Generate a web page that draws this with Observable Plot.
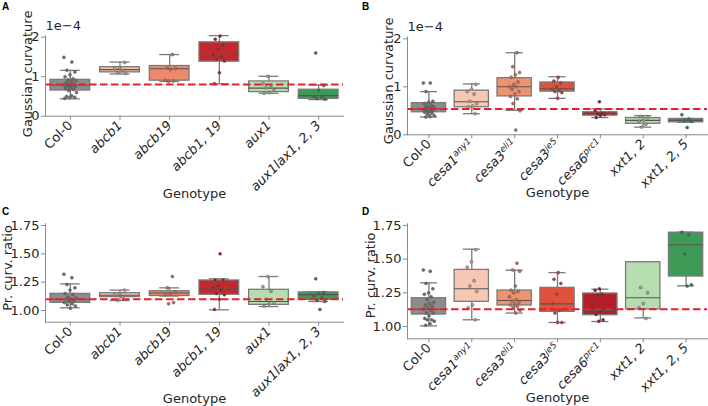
<!DOCTYPE html>
<html><head><meta charset="utf-8">
<script src="https://cdn.jsdelivr.net/npm/d3@7"></script>
<script src="https://cdn.jsdelivr.net/npm/@observablehq/plot@0.6"></script>
<style>
body{margin:0;background:#fff;}
#wrap{position:relative;width:708px;height:406px;overflow:hidden;font-family:"DejaVu Sans",sans-serif;}
.panel{position:absolute;}
.letter{position:absolute;font:bold 10px "Liberation Sans",Arial,sans-serif;color:#000;}
</style></head><body><div id="wrap"></div>
<script>
// ---------- categories ----------
const genoA = ["Col-0","abcb1","abcb19","abcb1, 19","aux1","aux1lax1, 2, 3"];
const supA  = ["","","","","",""];
const colorsA = ["#8c8c8c","#f5c3ad","#ec8a6b","#c3282e","#b6ddb0","#3c9a56"];

const genoB = ["Col-0","cesa1","cesa3","cesa3","cesa6","xxt1, 2","xxt1, 2, 5"];
const supB  = ["","any1","eli1","je5","prc1","",""];
const colorsB = ["#8c8c8c","#f6c7b3","#ee936f","#e0523e","#b41f27","#b6ddb0","#3d9a57"];

// ---------- Panel A: Gaussian curvature (x1e-4) ----------
const gcA_q1  = [0.65,1.11,0.90,1.38,0.61,0.44];
const gcA_med = [0.79,1.18,1.20,1.54,0.71,0.52];
const gcA_q3  = [0.92,1.24,1.27,1.87,0.88,0.67];
const gcA_lo  = [0.44,1.07,0.88,0.82,0.58,0.42];
const gcA_hi  = [1.16,1.37,1.56,2.04,1.01,0.79];
const gcA_pts = [
  [1.49,1.37,1.16,1.12,1.05,1.0,0.95,0.92,0.9,0.88,0.85,0.82,0.8,0.79,0.78,0.76,0.75,0.72,0.7,0.68,0.65,0.6,0.52,0.5,0.48,0.47,0.45],
  [1.36,1.22,1.2,1.15,1.1,1.08],
  [1.56,1.22,1.21,1.18,0.91,0.89,0.88],
  [2.03,1.95,1.8,1.7,1.55,1.5,1.45,1.4,1.1,0.82],
  [1.01,0.82,0.78,0.72,0.65,0.6,0.58],
  [1.6,0.78,0.65,0.5,0.48,0.45,0.43]
];
const gcA_ref = 0.80;

// ---------- Panel B: Gaussian curvature (x1e-4) ----------
const gcB_q1  = [0.47,0.575,0.80,0.90,0.40,0.23,0.26];
const gcB_med = [0.54,0.69,1.00,0.96,0.44,0.30,0.30];
const gcB_q3  = [0.66,0.92,1.18,1.09,0.47,0.35,0.33];
const gcB_lo  = [0.37,0.44,0.51,0.76,0.36,0.16,0.26];
const gcB_hi  = [0.90,1.06,1.71,1.21,0.54,0.40,0.34];
const gcB_pts = [
  [1.08,1.08,0.9,0.7,0.68,0.65,0.62,0.6,0.58,0.57,0.56,0.55,0.54,0.53,0.52,0.5,0.5,0.48,0.47,0.45,0.43,0.4,0.38,0.37],
  [1.05,0.95,0.9,0.85,0.7,0.65,0.6,0.58,0.44],
  [1.71,1.42,1.3,1.25,1.2,1.1,1.05,1.0,1.0,0.95,0.9,0.85,0.8,0.75,0.65,0.5,0.1],
  [1.2,1.12,1.08,1.0,0.95,0.92,0.9,0.88,0.76],
  [0.69,0.5,0.45,0.44,0.42,0.4,0.36],
  [0.38,0.36,0.3,0.28,0.22,0.16],
  [0.42,0.33,0.3,0.28,0.15]
];
const gcB_ref = 0.54;

// ---------- Panel C: principal curvature ratio ----------
const prC_q1  = [1.068,1.118,1.128,1.139,1.05,1.094];
const prC_med = [1.10,1.135,1.155,1.19,1.08,1.14];
const prC_q3  = [1.147,1.153,1.17,1.265,1.183,1.16];
const prC_lo  = [1.024,1.088,1.128,1.006,1.035,1.08];
const prC_hi  = [1.235,1.18,1.20,1.28,1.30,1.165];
const prC_pts = [
  [1.32,1.29,1.23,1.2,1.18,1.15,1.14,1.12,1.11,1.1,1.1,1.09,1.08,1.07,1.06,1.05,1.04,1.02],
  [1.18,1.15,1.14,1.12,1.09],
  [1.30,1.2,1.16,1.15,1.14,1.07,1.06],
  [1.5,1.27,1.27,1.22,1.2,1.18,1.15,1.14,1.1,1.01],
  [1.30,1.21,1.17,1.1,1.07,1.06,1.04],
  [1.28,1.16,1.15,1.13,1.11,1.09,1.08,1.01]
];
const prC_ref = 1.10;

// ---------- Panel D: principal curvature ratio ----------
const prD_q1  = [1.089,1.183,1.156,1.109,1.084,1.128,1.371];
const prD_med = [1.128,1.28,1.193,1.168,1.119,1.213,1.607];
const prD_q3  = [1.21,1.42,1.267,1.287,1.245,1.477,1.696];
const prD_lo  = [1.005,1.05,1.10,1.03,1.037,1.064,1.302];
const prD_hi  = [1.324,1.574,1.418,1.40,1.277,1.477,1.70];
const prD_pts = [
  [1.42,1.41,1.32,1.28,1.25,1.24,1.22,1.2,1.18,1.17,1.16,1.15,1.14,1.13,1.12,1.1,1.1,1.08,1.06,1.05,1.05,1.04,1.02,1.01],
  [1.57,1.48,1.44,1.34,1.3,1.26,1.16,1.14,1.05],
  [1.47,1.42,1.41,1.3,1.27,1.26,1.25,1.22,1.2,1.19,1.18,1.17,1.16,1.15,1.14,1.12,1.1],
  [1.40,1.35,1.32,1.24,1.17,1.12,1.1,1.03,1.03],
  [1.28,1.27,1.24,1.23,1.13,1.11,1.09,1.05,1.04],
  [1.29,1.25,1.17,1.14,1.06],
  [1.70,1.68,1.54,1.31,1.30]
];
const prD_ref = 1.128;

// ---------- tick labels / titles ----------
const gcTicks = [0,1,2];
const prTicks = [1.00,1.25,1.50,1.75];
const xTitle = "Genotype";
const gcTitle = "Gaussian curvature";
const prTitle = "Pr. curv. ratio";
const gcOffset = "1e\u22124";

// ---------- drawing ----------
const AXIS = "#8a8a8a", EDGE = "#7a7a7a", TXT = "#262626";
const jit = k => (((k * 0.61803) % 1) - 0.5) * 0.26;

function panel(cfg) {
  const n = cfg.names.length;
  const stats = d3.range(n).map(i => ({i, q1: cfg.q1[i], med: cfg.med[i], q3: cfg.q3[i], lo: cfg.lo[i], hi: cfg.hi[i], c: cfg.colors[i]}));
  const pts = cfg.pts.flatMap((arr, i) => arr.map((v, k) => ({i, v, x: i + jit(k + i * 3), c: d3.color(cfg.colors[i]).darker(0.7).formatHex()})));
  const marks = [
    Plot.ruleX(stats, {x: "i", y1: "lo", y2: "q1", stroke: EDGE, strokeWidth: 1.3}),
    Plot.ruleX(stats, {x: "i", y1: "q3", y2: "hi", stroke: EDGE, strokeWidth: 1.3}),
    Plot.ruleY(stats, {y: "lo", x1: d => d.i - 0.2, x2: d => d.i + 0.2, stroke: EDGE, strokeWidth: 1.3}),
    Plot.ruleY(stats, {y: "hi", x1: d => d.i - 0.2, x2: d => d.i + 0.2, stroke: EDGE, strokeWidth: 1.3}),
    Plot.rect(stats, {x1: d => d.i - 0.4, x2: d => d.i + 0.4, y1: "q1", y2: "q3", fill: "c", stroke: EDGE, strokeWidth: 1.3}),
    Plot.ruleY(stats, {y: "med", x1: d => d.i - 0.4, x2: d => d.i + 0.4, stroke: "#555", strokeWidth: 1.1}),
    Plot.dot(pts, {x: "x", y: "v", fill: "c", stroke: "#555", strokeWidth: 0.5, r: 1.5}),
    Plot.ruleY([cfg.ref], {stroke: "#e8202a", strokeWidth: 2, strokeDasharray: "7.5,3.5"}),
    Plot.frame({anchor: "left", stroke: AXIS}),
    Plot.frame({anchor: "bottom", stroke: AXIS}),
    Plot.axisX({ticks: d3.range(n), tickFormat: i => cfg.names[i] + cfg.sups[i], tickRotate: -45, tickSize: 4, tickPadding: 3,
      stroke: AXIS, fill: TXT, label: null}),
    Plot.axisY({ticks: cfg.ticks, tickFormat: cfg.fmt, tickSize: 4, tickPadding: 2, stroke: AXIS, fill: TXT, label: null}),
    Plot.text([xTitle], {frameAnchor: "bottom", text: d => d, lineAnchor: "middle", textAnchor: "middle", dy: cfg.xdy, fill: TXT}),
    Plot.text([cfg.ylabel], {frameAnchor: "left", text: d => d, rotate: -90, lineAnchor: "middle", textAnchor: "middle", dx: cfg.ydx, dy: cfg.ydy, fill: TXT})
  ];
  if (cfg.offsetText) marks.push(Plot.text([cfg.offsetText], {frameAnchor: "top-left", text: d => d, textAnchor: "start", lineAnchor: "middle", dy: -10, fill: TXT}));
  const svg = Plot.plot({
    width: 354, height: cfg.height,
    marginLeft: cfg.ml, marginRight: cfg.mr, marginTop: cfg.mt, marginBottom: cfg.mb,
    style: {fontFamily: "DejaVu Sans", fontSize: "13px", color: TXT, background: "transparent", overflow: "visible"},
    x: {domain: [-0.5, n - 0.5]},
    y: {domain: cfg.domain},
    marks
  });
  // tick label styling: italic genotype names and superscript alleles
  svg.querySelectorAll('g[aria-label="x-axis tick label"] text').forEach((t, i) => {
    t.textContent = cfg.names[i];
    if (i > 0) t.style.fontStyle = "italic";
    if (cfg.sups[i]) {
      const ts = document.createElementNS("http://www.w3.org/2000/svg", "tspan");
      ts.textContent = cfg.sups[i];
      ts.setAttribute("font-size", "9");
      ts.setAttribute("dy", "-0.5em");
      t.appendChild(ts);
    }
  });
  const div = document.createElement("div");
  div.className = "panel";
  div.style.left = cfg.left + "px"; div.style.top = cfg.top + "px";
  div.appendChild(svg);
  document.getElementById("wrap").appendChild(div);
  const L = document.createElement("div");
  L.className = "letter"; L.textContent = cfg.letter;
  L.style.left = cfg.lx + "px"; L.style.top = cfg.ly + "px";
  document.getElementById("wrap").appendChild(L);
}

const fmtGC = d3.format("d"), fmtPR = d3.format(".2f");

panel({letter: "A", lx: 2, ly: 1, left: 0, top: 0, height: 200, ml: 45, mr: 11, mt: 35.1, mb: 84.3,
  names: genoA, sups: supA, colors: colorsA, q1: gcA_q1, med: gcA_med, q3: gcA_q3, lo: gcA_lo, hi: gcA_hi, pts: gcA_pts, ref: gcA_ref,
  domain: [0, 2.04], ticks: gcTicks, fmt: fmtGC, ylabel: gcTitle, ydx: -18, ydy: -2, xdy: 77.5, offsetText: gcOffset});
panel({letter: "B", lx: 362, ly: 1, left: 354, top: 0, height: 200, ml: 53, mr: 1, mt: 36.4, mb: 65.7,
  names: genoB, sups: supB, colors: colorsB, q1: gcB_q1, med: gcB_med, q3: gcB_q3, lo: gcB_lo, hi: gcB_hi, pts: gcB_pts, ref: gcB_ref,
  domain: [0, 2.04], ticks: gcTicks, fmt: fmtGC, ylabel: gcTitle, ydx: -18.5, ydy: -5, xdy: 58.5, offsetText: gcOffset});
panel({letter: "C", lx: 2, ly: 206, left: 0, top: 200, height: 206, ml: 45, mr: 11, mt: 23.3, mb: 84.3,
  names: genoA, sups: supA, colors: colorsA, q1: prC_q1, med: prC_med, q3: prC_q3, lo: prC_lo, hi: prC_hi, pts: prC_pts, ref: prC_ref,
  domain: [0.897, 1.765], ticks: prTicks, fmt: fmtPR, ylabel: prTitle, ydx: -38, ydy: -5, xdy: 76.5});
panel({letter: "D", lx: 362, ly: 206, left: 354, top: 200, height: 206, ml: 53, mr: 1, mt: 23.3, mb: 67.7,
  names: genoB, sups: supB, colors: colorsB, q1: prD_q1, med: prD_med, q3: prD_q3, lo: prD_lo, hi: prD_hi, pts: prD_pts, ref: prD_ref,
  domain: [0.909, 1.762], ticks: prTicks, fmt: fmtPR, ylabel: prTitle, ydx: -37, ydy: -6, xdy: 59.5});
</script></body></html>
